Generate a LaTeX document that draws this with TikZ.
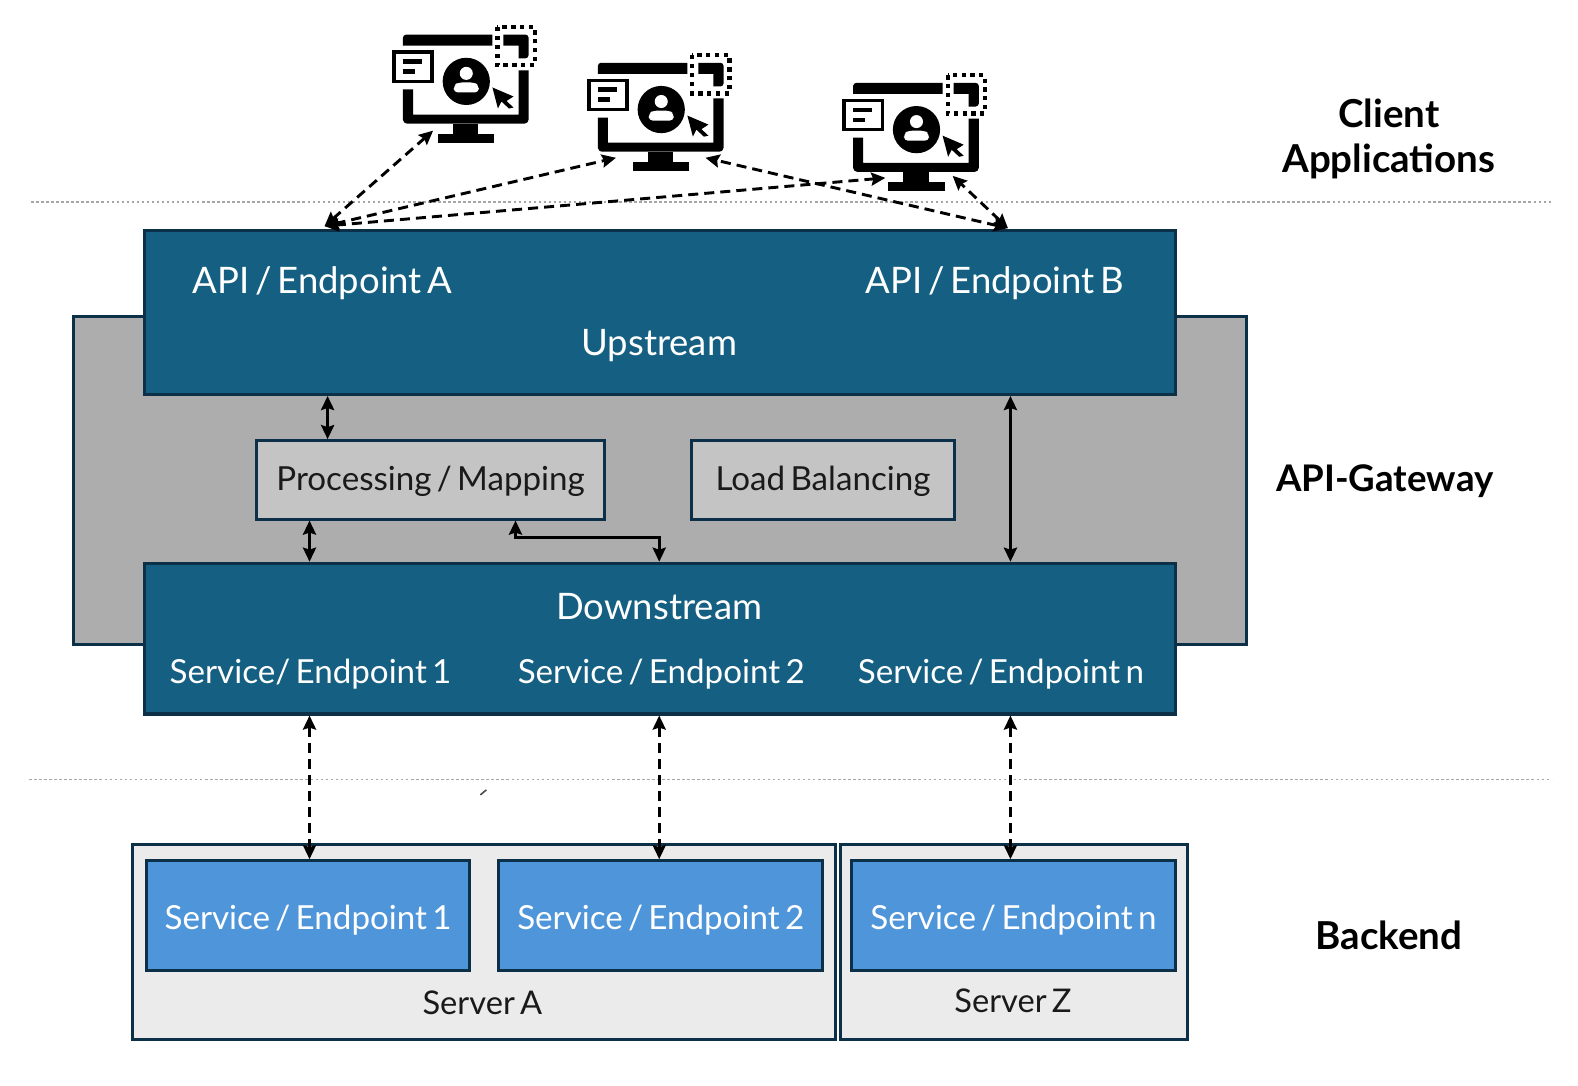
\documentclass[tikz,border=0pt]{standalone}
\usepackage{fontspec}
\setmainfont[WordSpace=0.62]{Lato}
\usetikzlibrary{arrows.meta}
\definecolor{edgeblue}{HTML}{0B3048}
\definecolor{darkblue}{HTML}{156082}
\definecolor{lightblue}{HTML}{4E95D9}
\definecolor{midgray}{HTML}{ADADAD}
\definecolor{boxgray}{HTML}{C4C4C4}
\definecolor{srvgray}{HTML}{EBEBEB}
\definecolor{txtdark}{HTML}{1A1A1A}
\tikzset{
	box/.style={draw=edgeblue,line width=3pt,inner sep=0pt,anchor=north west},
	bluebox/.style={box,fill=darkblue},
	procbox/.style={box,fill=boxgray,text=txtdark,text height=28pt,text depth=7pt,font=\fontsize{33}{38}\selectfont},
	srvbox/.style={box,fill=srvgray},
	svcbox/.style={box,fill=lightblue,text=white,text height=33pt,text depth=6pt,font=\fontsize{33}{38}\selectfont},
	wlabel/.style={text=white,inner sep=0pt,font=\fontsize{36.3}{42}\selectfont},
	slabel/.style={text=white,inner sep=0pt,font=\fontsize{33}{38}\selectfont},
	dlabel/.style={text=txtdark,inner sep=0pt,font=\fontsize{32.5}{38}\selectfont},
	hlabel/.style={text=black,inner sep=0pt,align=center,font=\fontsize{38.3}{45}\selectfont\bfseries},
	sepline/.style={draw=black!35,line width=1.2pt,dash pattern=on 2.5pt off 2.5pt},
	dbl/.style={{Stealth[length=14pt,width=13pt,inset=2pt]}-{Stealth[length=14pt,width=13pt,inset=2pt]},line width=2.9pt,black},
	dbldash/.style={dbl,dash pattern=on 10pt off 6pt},
	monitor/.pic={
		% frame
		\fill[black] (11,64) -- (21,64) -- (21,89) -- (126,89) -- (126,45) -- (136,45) [rounded corners=4pt] -- (136,98) -- (11,98) [sharp corners] -- cycle;
		\fill[black] (100,9.5) -- (100,20.5) -- (11,20.5) [rounded corners=3pt] -- (11,9.5) [sharp corners] -- cycle;
		\fill[black] (111,9.5) -- (130,9.5) [rounded corners=3pt] -- (136,9.5) -- (136,33) [sharp corners] -- (126,33) -- (126,20.5) -- (111,20.5) -- cycle;
		\fill[black] (61,98) rectangle (86,108);
		\fill[black] (46,108) rectangle (102,117);
		% dotted corner
		\draw[black,line width=4.2pt,dash pattern=on 4.2pt off 4.6pt] (105,2) rectangle (142,40);
		% card
		\draw[black,line width=3.6pt,fill=white] (2,27) rectangle (40,56);
		\fill[black] (11,34) rectangle (30,38.5);
		\fill[black] (11,44) rectangle (23,48.5);
		% user
		\fill[black] (74,56) circle (23.5);
		\fill[white] (74,48) circle (6.5);
		\fill[white,rounded corners=4pt] (61.5,67) -- (61.5,60) -- (66,57) -- (82,57) -- (86.5,60) -- (86.5,67) -- cycle;
		% cursor
		\fill[black] (100,62) -- (121,71) -- (114,75.5) -- (121,82) -- (116.5,83) -- (109,76) -- (105.5,83) -- cycle;
	}
}
\begin{document}
\begin{tikzpicture}[x=1pt,y=-1pt]
	\useasboundingbox (0,0) rectangle (1570.3,1079.7);

	% separators
	\coordinate (sep1l) at (31,201);
	\coordinate (sep1r) at (1545,201);
	\coordinate (sep2l) at (29,776);
	\coordinate (sep2r) at (1544,776);
	\draw[sepline] (sep1l) -- (sep1r);
	\draw[sepline] (sep2l) -- (sep2r);
	\coordinate (ticka) at (478,791);
	\coordinate (tickb) at (484,786);
	\draw[black!70,line width=1.6pt] (ticka) -- (tickb);

	% gateway
	\node[box,fill=midgray,minimum width=1167pt,minimum height=327pt] (gw) at (72,313) {};
	\node[bluebox,minimum width=1026pt,minimum height=163pt] (up) at (142,228) {};
	\node[bluebox,minimum width=1026pt,minimum height=150pt] (down) at (142,559) {};
	\node[procbox,minimum width=346pt,minimum height=78pt] (pm) at (254,437) {Processing / Mapping};
	\node[procbox,minimum width=261pt,minimum height=78pt] (lb) at (687,437) {Load Balancing};
	\node[wlabel] (epa) at (321,282) {API / Endpoint A};
	\node[wlabel] (epb) at (990,282) {API / Endpoint B};
	\node[wlabel] (ups) at (656,344) {Upstream};
	\node[wlabel] (dns) at (656,604) {Downstream};
	\node[slabel] (ds1) at (309,671) {Service/ Endpoint 1};
	\node[slabel] (ds2) at (658,671) {Service / Endpoint 2};
	\node[slabel] (dsn) at (996,671) {Service / Endpoint n};

	% backend
	\node[srvbox,minimum width=700pt,minimum height=194pt] (sa) at (130,839) {};
	\node[srvbox,minimum width=345pt,minimum height=194pt] (sz) at (835,839) {};
	\node[svcbox,minimum width=322pt,minimum height=109pt] (s1) at (144,855) {Service / Endpoint 1};
	\node[svcbox,minimum width=322pt,minimum height=109pt] (s2) at (495,855) {Service / Endpoint 2};
	\node[svcbox,minimum width=322pt,minimum height=109pt] (sn) at (846,855) {Service / Endpoint n};
	\node[dlabel] (sal) at (480,998) {Server A};
	\node[dlabel] (szl) at (1008,996) {Server Z};

	% right column
	\node[hlabel] (hc) at (1382,138) {Client\\Applications};
	\node[hlabel,font=\fontsize{36.5}{45}\selectfont\bfseries] (hg) at (1378,479) {API-Gateway};
	\node[hlabel] (hb) at (1382,931) {Backend};

	% clients
	\pic at (390,25) {monitor};
	\pic at (584,53) {monitor};
	\pic at (838,73) {monitor};

	% client arrows
	\coordinate (ca) at (323,225);
	\coordinate (cb) at (1003,227);
	\coordinate (c1) at (431,130);
	\coordinate (c2) at (613,157);
	\coordinate (c2r) at (702,157);
	\coordinate (c3) at (881,177);
	\coordinate (c3r) at (948,175);
	\draw[dbldash] (ca) -- (c1);
	\draw[dbldash] (ca) -- (c2);
	\draw[dbldash] (ca) -- (c3);
	\draw[dbldash] (cb) -- (c2r);
	\draw[dbldash] (cb) -- (c3r);

	% gateway arrows
	\coordinate (xa) at (326,0);
	\coordinate (xb) at (308,0);
	\coordinate (xc) at (513,0);
	\coordinate (xd) at (656,0);
	\coordinate (xe) at (1005.5,0);
	\coordinate (ym) at (0,535);
	\draw[dbl] (up.south -| xa) -- (pm.north -| xa);
	\draw[dbl] (pm.south -| xb) -- (down.north -| xb);
	\draw[dbl] (pm.south -| xc) -- (xc |- ym) -- (xd |- ym) -- (down.north -| xd);
	\draw[dbl] (up.south -| xe) -- (down.north -| xe);

	% backend arrows
	\draw[dbldash] (down.south -| xb) -- (s1.north -| xb);
	\draw[dbldash] (down.south -| xd) -- (s2.north -| xd);
	\draw[dbldash] (down.south -| xe) -- (sn.north -| xe);
\end{tikzpicture}
\end{document}
